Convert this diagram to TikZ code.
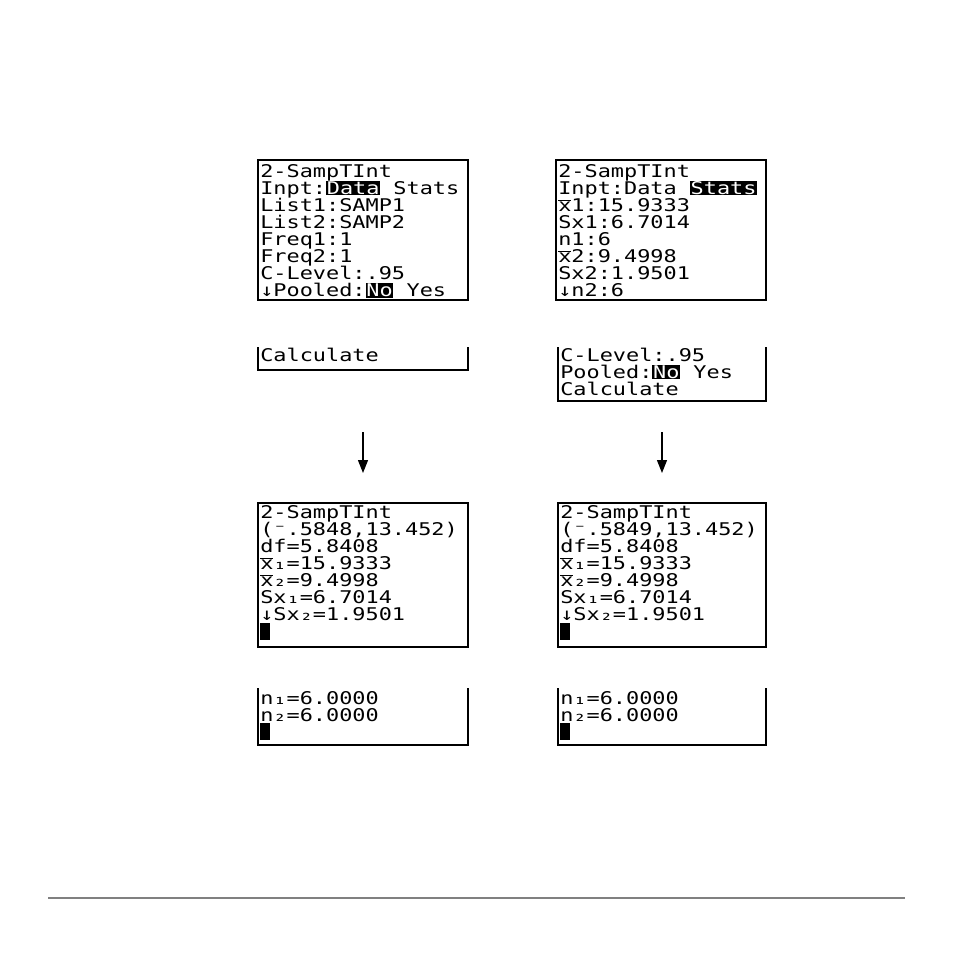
\documentclass[tikz,border=0pt]{standalone}
\usepackage{fontspec}
\setmonofont{DejaVu Sans Mono}
\usetikzlibrary{arrows.meta}
\newcommand{\inv}[1]{{\setlength\fboxsep{0.6pt}\colorbox{black}{\textcolor{white}{#1}}}}
\newcommand{\xb}{$\overline{\mbox{x}}$}
\tikzset{
 scr/.style={draw=black,line width=1.8pt},
 txt/.style={anchor=base west,inner sep=0pt,font=\ttfamily\fontsize{17.5}{17}\selectfont,xscale=1.25,transform shape},
 cur/.style={fill=black},
 arr/.style={line width=1.2pt,-{Triangle[length=13pt,width=10pt]}}
}
\newcommand{\lines}[3]{% x, y0, list
 \foreach \t [count=\i from 0] in {#3} {\node[txt] at (#1,#2+17.1*\i) {\t};}}
\begin{document}
\begin{tikzpicture}[x=1pt,y=-1pt]
\useasboundingbox (0,0) rectangle (954,954);
% top screens
\draw[scr] (258,160) rectangle (468,300);
\draw[scr] (556,160) rectangle (766,300);
\lines{260}{177}{{2-SampTInt},{ Inpt:\inv{Data} Stats},{ List1:SAMP1},{ List2:SAMP2},{ Freq1:1},{ Freq2:1},{ C-Level:.95},{↓Pooled:\inv{No} Yes}}
\lines{558}{177}{{2-SampTInt},{ Inpt:Data \inv{Stats}},{ \xb1:15.9333},{ Sx1:6.7014},{ n1:6},{ \xb2:9.4998},{ Sx2:1.9501},{↓n2:6}}
% partial screens
\draw[scr] (258,347) -- (258,370) -- (468,370) -- (468,347);
\draw[scr] (558,347) -- (558,401) -- (766,401) -- (766,347);
\lines{260}{361}{{ Calculate}}
\lines{560}{361}{{ C-Level:.95},{ Pooled:\inv{No} Yes},{ Calculate}}
% arrows
\coordinate (a1) at (363,432); \coordinate (b1) at (363,473);
\coordinate (a2) at (662,432); \coordinate (b2) at (662,473);
\draw[arr] (a1) -- (b1);
\draw[arr] (a2) -- (b2);
% result screens
\draw[scr] (258,503) rectangle (468,647);
\draw[scr] (558,503) rectangle (766,647);
\lines{260}{518}{{2-SampTInt},{ (⁻.5848,13.452)},{ df=5.8408},{ \xb₁=15.9333},{ \xb₂=9.4998},{ Sx₁=6.7014},{↓Sx₂=1.9501}}
\lines{560}{518}{{2-SampTInt},{ (⁻.5849,13.452)},{ df=5.8408},{ \xb₁=15.9333},{ \xb₂=9.4998},{ Sx₁=6.7014},{↓Sx₂=1.9501}}
\fill[cur] (260,623) rectangle (270,640);
\fill[cur] (560,623) rectangle (570,640);
% bottom partial
\draw[scr] (258,688) -- (258,745) -- (468,745) -- (468,688);
\draw[scr] (558,688) -- (558,745) -- (766,745) -- (766,688);
\lines{260}{704}{{ n₁=6.0000},{ n₂=6.0000}}
\lines{560}{704}{{ n₁=6.0000},{ n₂=6.0000}}
\fill[cur] (260,723) rectangle (270,740);
\fill[cur] (560,723) rectangle (570,740);
% footer rule
\draw[gray,line width=1.5pt] (48,898) -- (905,898);
\end{tikzpicture}
\end{document}
